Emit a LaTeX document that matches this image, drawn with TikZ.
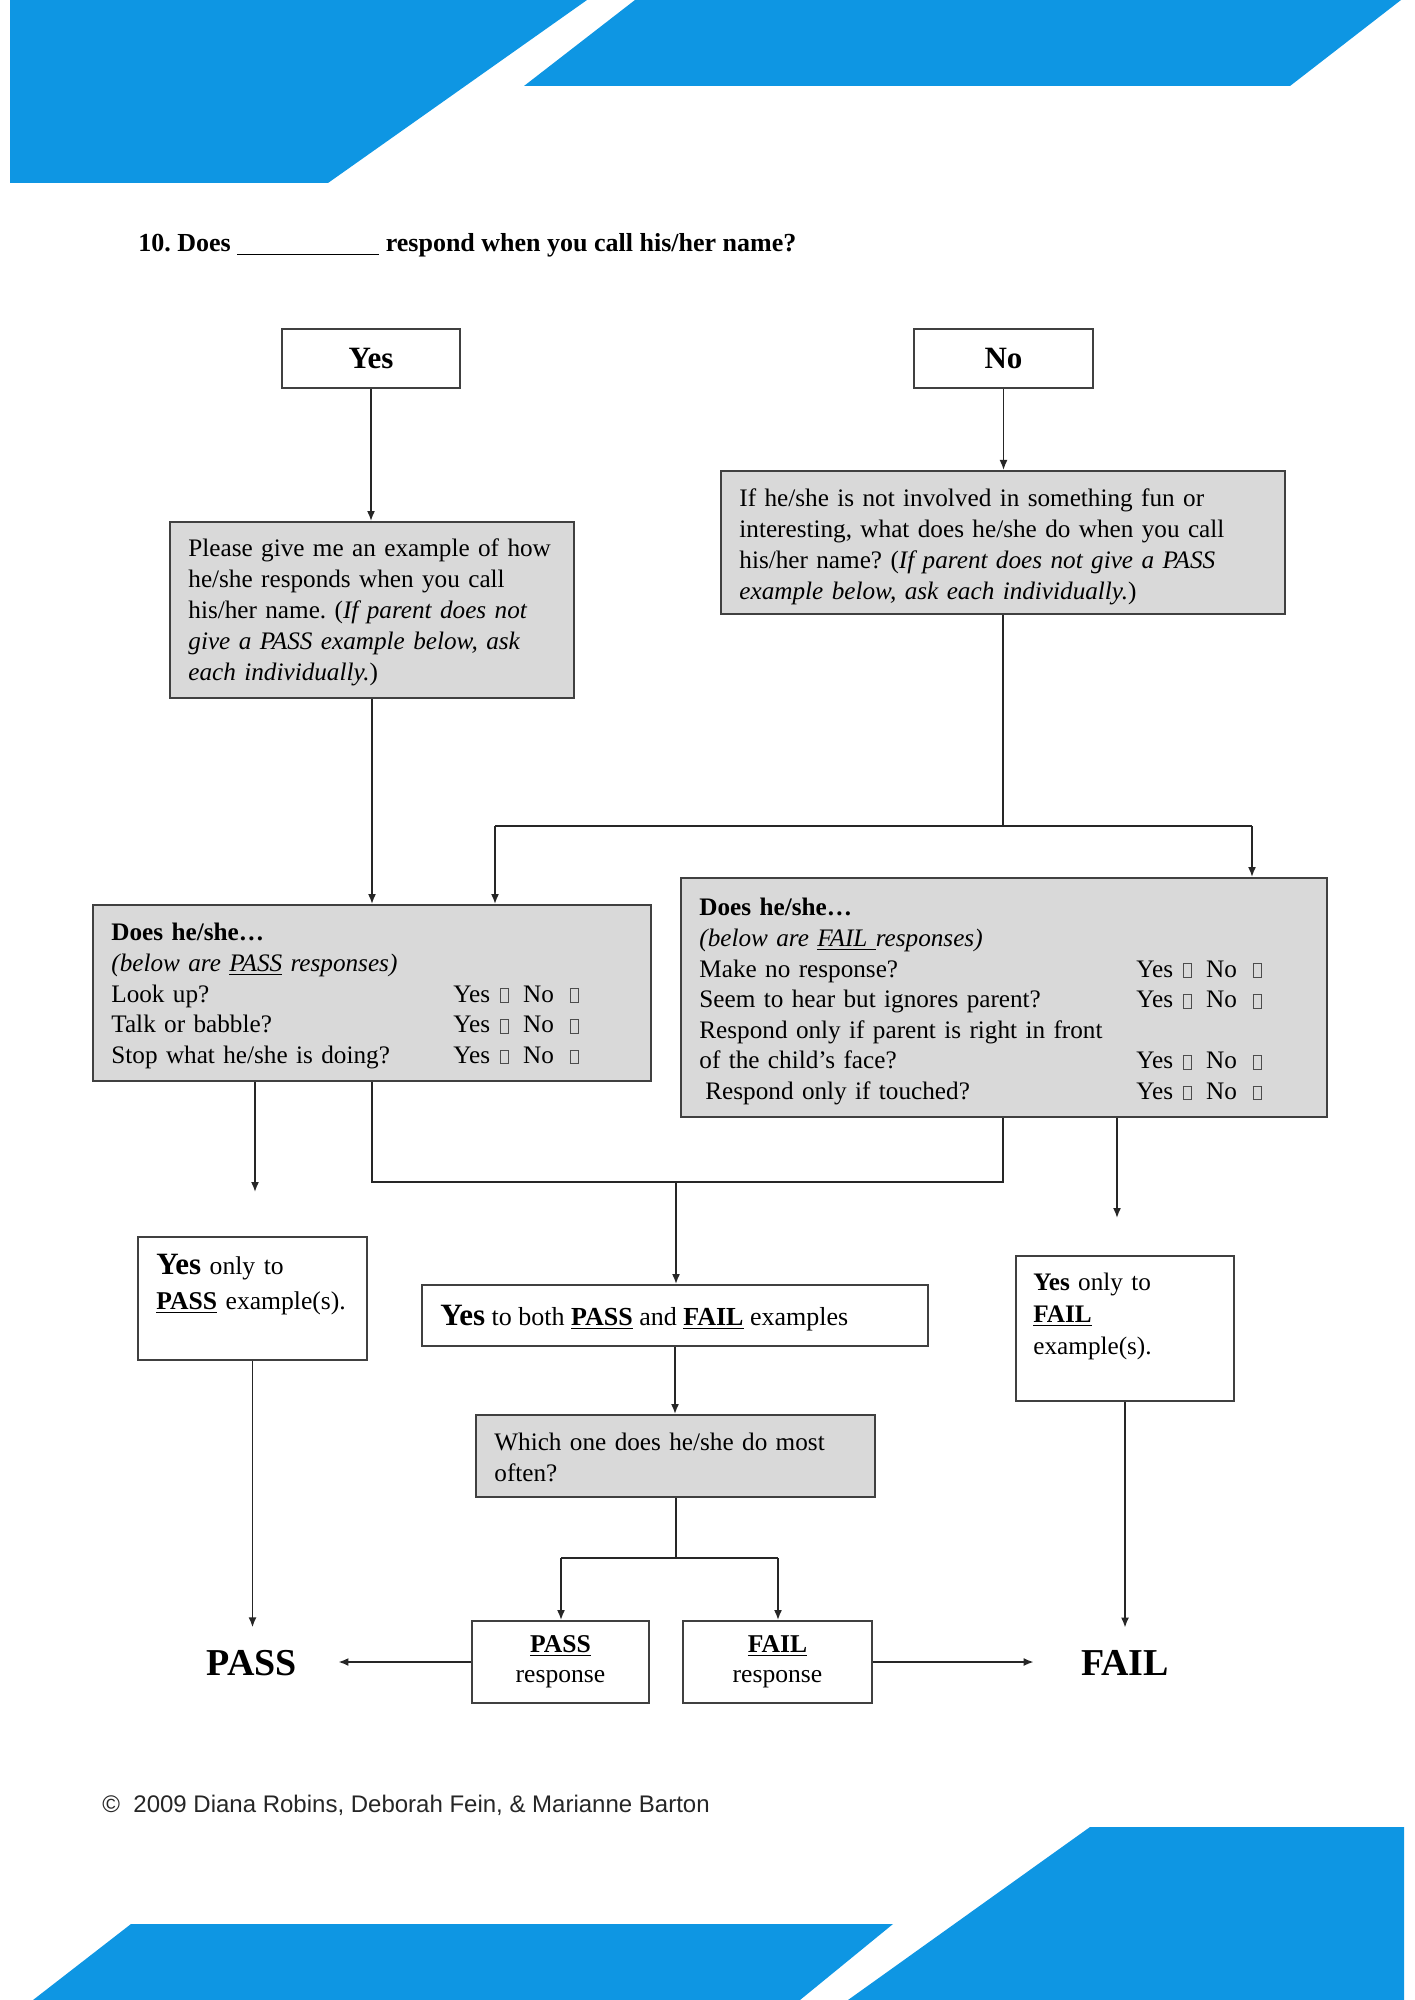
\documentclass[tikz,border=0pt]{standalone}
\usepackage{fontspec}
\setmainfont{Liberation Serif}
\newfontfamily\arialfont{Liberation Sans}
\usetikzlibrary{arrows.meta,fit}
\definecolor{blu}{RGB}{14,150,227}
\definecolor{greyfill}{RGB}{217,217,217}
\frenchspacing
\newcommand\chk{\textcolor{black!70}{\fboxsep=0pt\fboxrule=0.35pt\fbox{\rule{0pt}{6.5pt}\hspace{3.8pt}}}}
\newcommand\yn{Yes\hspace{5pt}\chk\hspace{7pt}No\hspace{8pt}\chk}
\tikzset{
  whitebox/.style={draw=black!75, line width=1pt, fill=white, inner sep=0pt},
  greybox/.style={whitebox, fill=greyfill},
  arr/.style={draw=black!85, line width=0.8pt, -{Latex[length=5pt,width=4pt]}},
  ln/.style={draw=black!85, line width=0.8pt},
  txt/.style={inner sep=0pt, anchor=north west, align=left, text width=300pt, font=\fontsize{12.6}{15.5}\selectfont},
}
\begin{document}
\begin{tikzpicture}[x=0.5pt,y=-0.5pt]
\useasboundingbox (0,0) rectangle (1414,2000);
% decorative blue bands
\fill[blu] (10,0) -- (587,0) -- (328,183) -- (10,183) -- cycle;
\fill[blu] (635,0) -- (1401,0) -- (1290,86) -- (524,86) -- cycle;
\fill[blu] (131,1924) -- (893,1924) -- (800,2000) -- (33,2000) -- cycle;
\fill[blu] (1090,1827) -- (1404,1827) -- (1404,2000) -- (848,2000) -- cycle;

% title
\node[inner sep=0pt, anchor=west, font=\bfseries\fontsize{13}{15}\selectfont] (title) at (138,245)
  {10. Does \underline{\hspace{71pt}} respond when you call his/her name?};

% top boxes
\node[whitebox, minimum width=89pt, minimum height=29.5pt, font=\bfseries\fontsize{15.5}{18}\selectfont] (yes) at (371,358.5) {Yes};
\node[whitebox, minimum width=89.5pt, minimum height=29.5pt, font=\bfseries\fontsize{15.5}{18}\selectfont] (no) at (1003.5,358.5) {No};

% first question boxes
\node[greybox, fit={(170,522)(574,698)}] (lg) {};
\node[txt] (lgt) at (188,538) {Please give me an example of how\\
he/she responds when you call\\
his/her name. ({\itshape If parent does not\\
give a PASS example below, ask\\
each individually.})};

\node[greybox, fit={(721,471)(1285,614)}] (rg) {};
\node[txt] (rgt) at (739,488) {If he/she is not involved in something fun or\\
interesting, what does he/she do when you call\\
his/her name? ({\itshape If parent does not give a PASS\\
example below, ask each individually.})};

% PASS responses box
\node[greybox, fit={(93,905)(651,1081)}] (pg) {};
\node[txt, font=\fontsize{12.6}{15.3}\selectfont] (pgt) at (111,923) {{\bfseries Does he/she…}\\
{\itshape (below are \underline{PASS} responses)}\\
\makebox[171pt][l]{Look up?}\yn\\
\makebox[171pt][l]{Talk or babble?}\yn\\
\makebox[171pt][l]{Stop what he/she is doing?}\yn};

% FAIL responses box
\node[greybox, fit={(681,878)(1327,1117)}] (fg) {};
\node[txt, font=\fontsize{12.6}{15.3}\selectfont] (fgt) at (699,898) {{\bfseries Does he/she…}\\
{\itshape (below are \underline{FAIL\ }responses)}\\
\makebox[218.5pt][l]{Make no response?}\yn\\
\makebox[218.5pt][l]{Seem to hear but ignores parent?}\yn\\
Respond only if parent is right in front\\
\makebox[218.5pt][l]{of the child’s face?}\yn\\
\makebox[218.5pt][l]{\hspace{3pt}Respond only if touched?}\yn};

% outcome boxes
\node[whitebox, fit={(138,1237)(367,1360)}] (ypo) {};
\node[txt, font=\fontsize{12.8}{17.5}\selectfont] (ypot) at (156,1254) {{\bfseries\fontsize{15.5}{17.5}\selectfont Yes} only to\\
\underline{\textbf{PASS}} example(s).};

\node[whitebox, fit={(422,1285)(928,1346)}] (yb) {};
\node[inner sep=0pt, anchor=west, font=\fontsize{13}{15.5}\selectfont] (ybt) at (440,1318)
  {{\bfseries\fontsize{15.5}{17.5}\selectfont Yes} to both \underline{\textbf{PASS}} and \underline{\textbf{FAIL}} examples};

\node[whitebox, fit={(1016,1256)(1234,1401)}] (yfo) {};
\node[txt, font=\fontsize{12.6}{16}\selectfont] (yfot) at (1033,1273) {\textbf{Yes} only to\\
\underline{\textbf{FAIL}}\\
example(s).};

\node[greybox, fit={(476,1415)(875,1497)}] (wh) {};
\node[txt] (wht) at (494,1433) {Which one does he/she do most\\ often?};

\node[whitebox, minimum width=88.5pt, minimum height=41pt, align=center, font=\fontsize{12.8}{15}\selectfont] (presp) at (560.5,1662) {\underline{\textbf{PASS}}\\response};
\node[whitebox, minimum width=94.5pt, minimum height=41pt, align=center, font=\fontsize{12.8}{15}\selectfont] (fresp) at (777.5,1662) {\underline{\textbf{FAIL}}\\response};

\node[font=\bfseries\fontsize{19}{22}\selectfont, inner xsep=20.5pt, inner ysep=11.25pt] (passT) at (252,1663) {PASS};
\node[font=\bfseries\fontsize{19}{22}\selectfont, inner xsep=23.5pt, inner ysep=11.25pt] (failT) at (1125,1663) {FAIL};

% copyright
\node[inner sep=0pt, anchor=west, text=black!85, font=\arialfont\fontsize{12}{14}\selectfont] (copy) at (102,1805)
  {©\ \ 2009 Diana Robins, Deborah Fein, \& Marianne Barton};

% connectors
\coordinate (jr) at (1003,826);
\coordinate (jl) at (495,826);
\coordinate (jrr) at (1252,826);
\coordinate (j2) at (372,1182);
\coordinate (j3) at (1003,1182);
\coordinate (jm) at (676,1182);
\coordinate (pa) at (255,1192);
\coordinate (fa) at (1117,1218);
\coordinate (jb) at (676,1558);
\coordinate (jbl) at (561,1558);
\coordinate (jbr) at (778,1558);

\draw[arr] (yes.south) -- (yes.south |- lg.north);
\draw[arr] (no.south) -- (no.south |- rg.north);
\draw[arr] (lg.south) -- (lg.south |- pg.north);
\draw[ln] (rg.south) -- (jr);
\draw[ln] (jl) -- (jrr);
\draw[arr] (jl) -- (jl |- pg.north);
\draw[arr] (jrr) -- (jrr |- fg.north);

\draw[arr] (pa |- pg.south) -- (pa);
\draw[ln] (j2 |- pg.south) -- (j2) -- (j3) -- (j3 |- fg.south);
\draw[arr] (jm) -- (jm |- yb.north);
\draw[arr] (fa |- fg.south) -- (fa);

\draw[arr] (yb.south) -- (yb.south |- wh.north);
\draw[ln] (jb |- wh.south) -- (jb);
\draw[ln] (jbl) -- (jbr);
\draw[arr] (jbl) -- (jbl |- presp.north);
\draw[arr] (jbr) -- (jbr |- fresp.north);

\draw[arr] (ypo.south) -- (ypo.south |- passT.north);
\draw[arr] (yfo.south) -- (yfo.south |- failT.north);
\draw[arr] (presp.west) -- (presp.west -| passT.east);
\draw[arr] (fresp.east) -- (fresp.east -| failT.west);
\end{tikzpicture}
\end{document}
